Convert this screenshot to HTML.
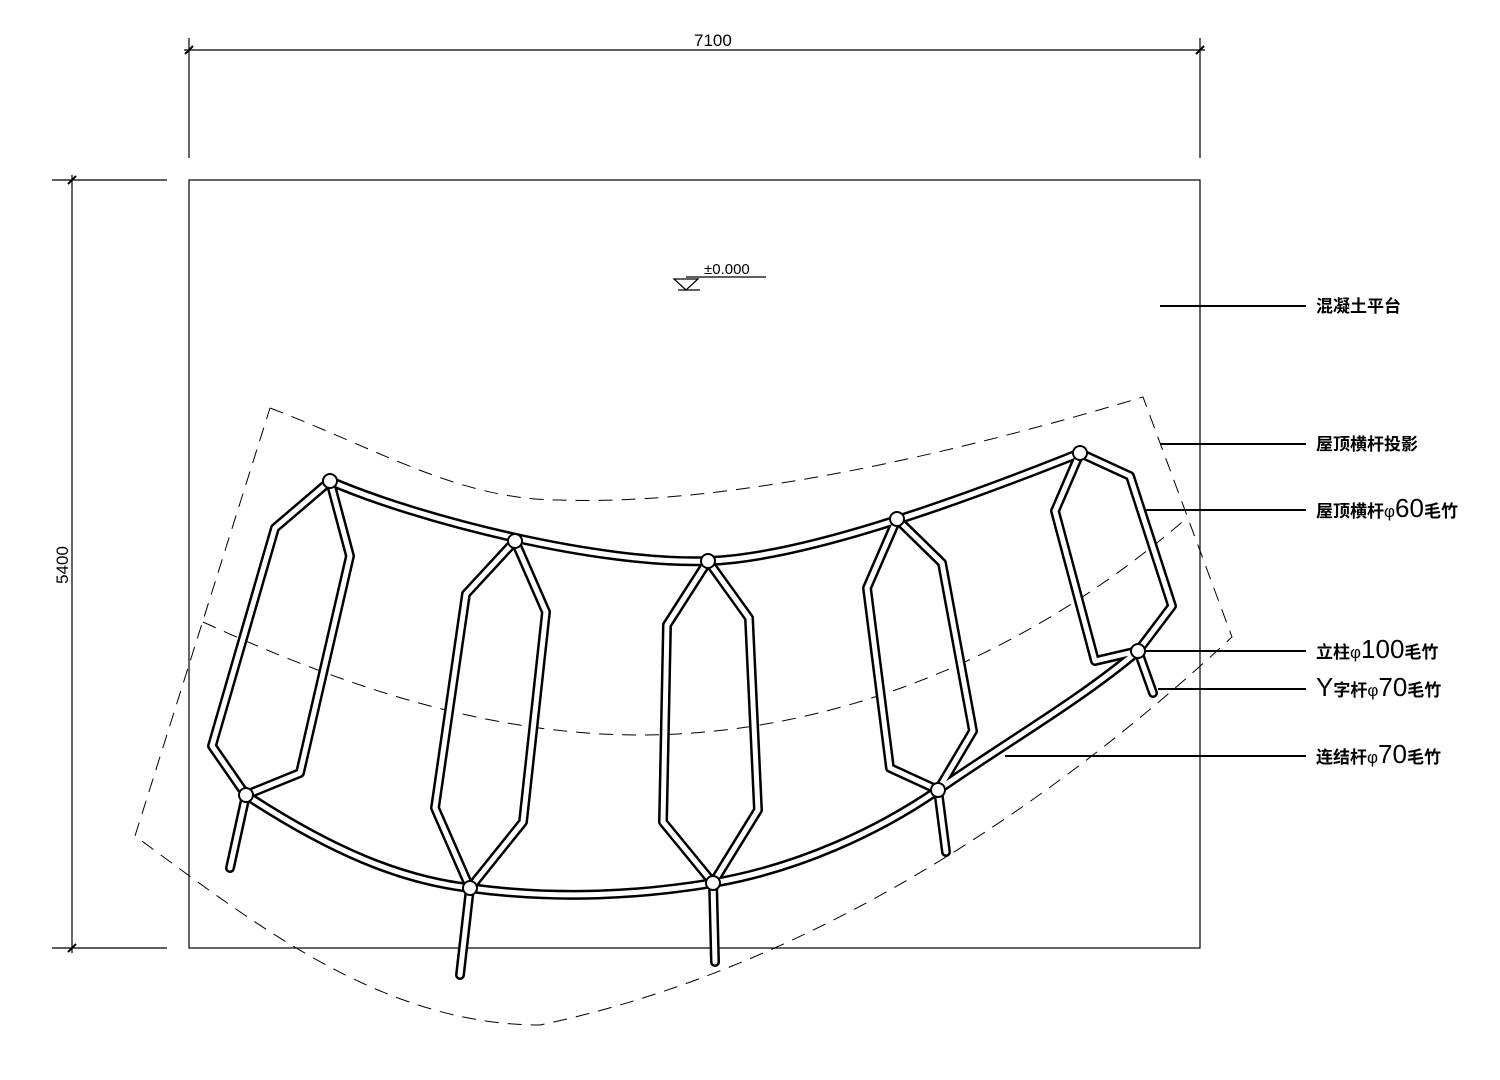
<!DOCTYPE html>
<html><head><meta charset="utf-8"><style>
html,body{margin:0;padding:0;background:#fff}
svg{display:block}
text{font-family:"Liberation Sans","Noto Sans CJK SC",sans-serif;fill:#000}
</style></head><body>
<svg width="1500" height="1080" viewBox="0 0 1500 1080" xmlns="http://www.w3.org/2000/svg">
<g stroke="#000" fill="none" stroke-width="1.2">
<rect x="189" y="180" width="1011" height="768"/>
<line x1="184" y1="50" x2="1205" y2="50"/>
<line x1="189" y1="38" x2="189" y2="158"/>
<line x1="1200" y1="38" x2="1200" y2="158"/>
<line x1="185" y1="54" x2="193" y2="46" stroke-width="2"/>
<line x1="1196" y1="54" x2="1204" y2="46" stroke-width="2"/>
<line x1="72" y1="175" x2="72" y2="953"/>
<line x1="52" y1="180" x2="167" y2="180"/>
<line x1="52" y1="948" x2="167" y2="948"/>
<line x1="68" y1="184" x2="76" y2="176" stroke-width="2"/>
<line x1="68" y1="952" x2="76" y2="944" stroke-width="2"/>
<line x1="686" y1="277" x2="766" y2="277"/>
<path d="M674,279 L698,279 L686,290 Z"/>
<line x1="678" y1="290" x2="700" y2="290"/>
<line x1="1160" y1="306" x2="1306" y2="306" stroke-width="2"/>
<line x1="1160" y1="444" x2="1306" y2="444" stroke-width="2"/>
<line x1="1142" y1="510" x2="1306" y2="510" stroke-width="2"/>
<line x1="1145" y1="651" x2="1306" y2="651" stroke-width="2"/>
<line x1="1158" y1="689" x2="1306" y2="689" stroke-width="2"/>
<line x1="1005" y1="756" x2="1306" y2="756" stroke-width="2"/>
</g>
<g stroke="#000" fill="none" stroke-width="1" stroke-dasharray="14,9">
<path d="M270,408 C380,450 460,500 560,500 C700,505 900,470 1143,397 L1232,637 C1100,760 850,960 540,1025 C380,1025 250,920 135,836 L270,408"/>
<path d="M203,622 C330,680 480,735 640,735 C800,735 1000,680 1188,517"/>
</g>
<g fill="none" stroke-linejoin="round" stroke-linecap="round">
<g stroke="#000" stroke-width="10">
<path d="M330,481 C420,520 600,565 708,561 C800,558 950,505 1080,453"/>
<path d="M246,795 C330,850 400,880 470,888 C560,900 640,895 713,883 C800,868 880,830 938,790 C1010,740 1080,700 1138,651"/>
<polyline points="246,795 212,746 275,528 330,481 350,556 300,773 246,795"/>
<polyline points="470,888 435,808 466,594 515,541 546,612 523,822 470,888"/>
<polyline points="713,883 663,822 667,625 708,561 749,618 758,810 713,883"/>
<polyline points="938,790 890,768 867,588 897,519 942,563 973,731 938,790"/>
<polyline points="1138,651 1095,661 1055,511 1080,453 1130,476 1172,606 1138,651"/>
<line x1="246" y1="795" x2="230" y2="868"/>
<line x1="470" y1="888" x2="460" y2="975"/>
<line x1="713" y1="883" x2="715" y2="962"/>
<line x1="938" y1="790" x2="946" y2="852"/>
<line x1="1138" y1="651" x2="1153" y2="693"/>
</g>
<g stroke="#fff" stroke-width="5">
<path d="M330,481 C420,520 600,565 708,561 C800,558 950,505 1080,453"/>
<path d="M246,795 C330,850 400,880 470,888 C560,900 640,895 713,883 C800,868 880,830 938,790 C1010,740 1080,700 1138,651"/>
<polyline points="246,795 212,746 275,528 330,481 350,556 300,773 246,795"/>
<polyline points="470,888 435,808 466,594 515,541 546,612 523,822 470,888"/>
<polyline points="713,883 663,822 667,625 708,561 749,618 758,810 713,883"/>
<polyline points="938,790 890,768 867,588 897,519 942,563 973,731 938,790"/>
<polyline points="1138,651 1095,661 1055,511 1080,453 1130,476 1172,606 1138,651"/>
<line x1="246" y1="795" x2="230" y2="868"/>
<line x1="470" y1="888" x2="460" y2="975"/>
<line x1="713" y1="883" x2="715" y2="962"/>
<line x1="938" y1="790" x2="946" y2="852"/>
<line x1="1138" y1="651" x2="1153" y2="693"/>
</g>
</g>
<g fill="#fff" stroke="#000" stroke-width="2">
<circle cx="330" cy="481" r="7"/><circle cx="515" cy="541" r="7"/><circle cx="708" cy="561" r="7"/><circle cx="897" cy="519" r="7"/><circle cx="1080" cy="453" r="7"/>
<circle cx="246" cy="795" r="7"/><circle cx="470" cy="888" r="7"/><circle cx="713" cy="883" r="7"/><circle cx="938" cy="790" r="7"/><circle cx="1138" cy="651" r="7"/>
</g>
<text x="694" y="46" font-size="17">7100</text>
<text x="68" y="565" font-size="17" transform="rotate(-90 68 565)" text-anchor="middle">5400</text>
<text x="704" y="274" font-size="15">±0.000</text>
<g font-size="17" font-weight="bold">
<text x="1316" y="312">混凝土平台</text>
<text x="1316" y="450">屋顶横杆投影</text>
<text x="1316" y="517">屋顶横杆<tspan font-weight="normal">φ</tspan><tspan font-size="26" font-weight="normal">60</tspan>毛竹</text>
<text x="1316" y="658">立柱<tspan font-weight="normal">φ</tspan><tspan font-size="26" font-weight="normal">100</tspan>毛竹</text>
<text x="1316" y="696"><tspan font-size="26" font-weight="normal">Y</tspan>字杆<tspan font-weight="normal">φ</tspan><tspan font-size="26" font-weight="normal">70</tspan>毛竹</text>
<text x="1316" y="763">连结杆<tspan font-weight="normal">φ</tspan><tspan font-size="26" font-weight="normal">70</tspan>毛竹</text>
</g>
</svg>
</body></html>
